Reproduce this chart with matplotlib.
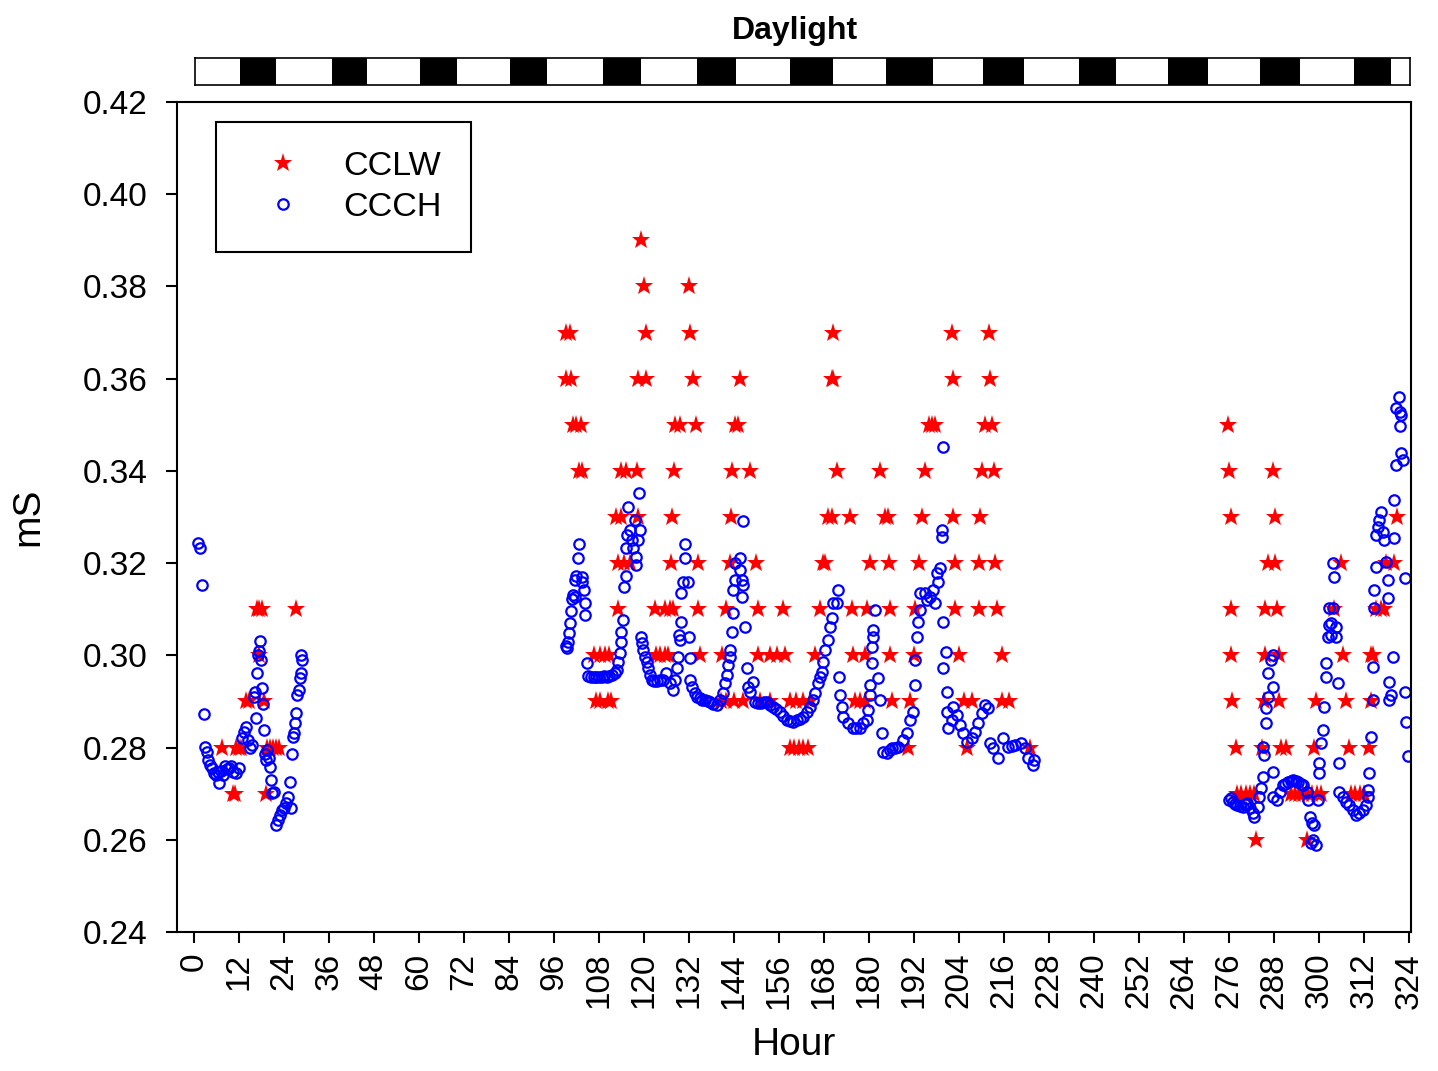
import numpy as np
import matplotlib
matplotlib.use("Agg")
import matplotlib.pyplot as plt

plt.rcParams['font.family'] = ['Liberation Sans', 'DejaVu Sans']

# CCCH (blue circles): hour, mS
ccch_hour = [
    # first run
    1.1, 1.6, 2.1, 2.7, 2.9, 3.5, 3.7, 4.3, 4.8, 5.3,
    5.9, 6.4, 6.7, 7.2, 7.7, 8.3, 8.8, 9.3, 9.9, 10.4,
    11.2, 12.0, 12.8, 13.4, 13.9, 14.4, 14.9, 15.5, 16.0, 16.3,
    16.6, 16.8, 17.1, 17.4, 17.6, 17.9, 18.2, 18.4, 18.7, 19.0,
    19.2, 19.5, 20.0, 20.3, 20.6, 20.8, 21.4, 21.9, 22.4, 22.9,
    23.5, 24.0, 24.6, 25.1, 25.6, 25.9, 26.2, 26.4, 26.7, 27.0,
    27.2, 27.5, 28.0, 28.3, 28.6, 28.8, 28.6,
    # second run
    99.1, 99.4, 99.7, 100.0, 100.4, 100.5, 100.7, 101.0, 101.5, 101.5,
    102.0, 102.3, 102.6, 103.4, 103.6, 103.9, 104.2, 104.4, 104.7, 105.2,
    105.9, 106.6, 107.3, 108.0, 108.7, 109.4, 110.1, 110.8, 111.5, 112.2,
    112.7, 113.0, 113.5, 113.8, 114.0, 114.3, 114.6, 115.1, 115.1, 115.4,
    115.7, 116.2, 116.7, 117.0, 117.5, 118.0, 118.0, 118.6, 118.9, 118.3,
    119.1, 119.4, 119.7, 120.2, 120.7, 121.0, 121.5, 122.1, 122.8, 123.5,
    124.2, 125.0, 126.0, 126.9, 127.7, 128.2, 128.7, 129.0, 129.5, 129.3,
    130.0, 130.0, 130.3, 130.9, 130.9, 131.7, 131.9, 132.2, 132.2, 132.7,
    133.5, 134.2, 134.9, 135.6, 136.3, 137.0, 137.7, 138.4, 139.4, 140.2,
    141.0, 141.6, 142.1, 142.4, 142.9, 142.9, 143.4, 143.7, 143.7, 144.2,
    144.2, 145.6, 145.6, 146.1, 146.4, 146.1, 146.4, 146.9, 147.4, 147.7,
    148.2, 149.0, 149.6, 150.4, 151.2, 152.0, 152.8, 153.6, 154.4, 155.2,
    156.3, 157.2, 158.1, 158.9, 159.7, 160.8, 161.6, 162.4, 163.4, 164.3,
    165.0, 165.6, 166.4, 167.0, 167.5, 167.7, 168.3, 169.1, 169.6, 170.1,
    170.4, 171.5, 171.7, 172.0, 172.3, 172.8, 173.1, 174.4, 175.7, 176.6,
    177.6, 178.4, 179.5, 179.8, 180.3, 180.3, 180.8, 180.8, 181.1, 181.1,
    181.6, 182.4, 183.0, 183.5, 183.8, 184.8, 185.5, 186.2, 187.0, 187.8,
    189.1, 190.2, 191.0, 191.8, 192.3, 192.3, 192.8, 193.1, 193.6, 193.6,
    195.0, 195.5, 196.3, 197.1, 197.6, 198.2, 198.4, 199.0, 199.5, 199.5,
    199.8, 199.8, 200.6, 199.8, 200.9, 200.9, 201.1, 202.2, 202.5, 203.5,
    204.3, 205.1, 206.2, 207.5, 208.3, 209.1, 210.2, 211.0, 211.8, 212.3,
    213.1, 214.5, 215.8, 217.1, 218.0, 219.0, 220.4, 221.7, 222.5, 223.6,
    224.1,
    # third run
    275.9, 276.4, 277.0, 277.5, 278.2, 278.9, 279.6, 280.2, 280.9, 281.6,
    282.3, 282.6, 283.6, 284.0, 284.6, 285.1, 285.3, 285.1, 285.8, 285.8,
    286.3, 287.6, 286.4, 287.1, 287.6, 287.8, 287.8, 288.8, 289.6, 290.4,
    291.0, 291.7, 292.4, 293.1, 293.8, 294.4, 295.1, 295.8, 296.9, 297.1,
    297.6, 298.2, 298.5, 299.1, 297.8, 298.7, 299.6, 299.9, 299.9, 300.5,
    301.0, 301.3, 301.8, 301.8, 302.4, 302.6, 302.6, 303.2, 304.5, 304.5,
    303.2, 303.7, 304.0, 303.7, 305.0, 305.3, 305.3, 306.4, 307.2, 308.0,
    309.0, 309.8, 310.6, 311.6, 312.4, 313.0, 313.0, 313.3, 313.8, 314.4,
    314.4, 314.6, 314.6, 315.2, 315.2, 315.7, 316.0, 316.5, 317.0, 317.3,
    317.8, 318.4, 318.4, 318.6, 318.6, 319.2, 319.7, 320.0, 320.0, 320.5,
    322.3, 321.8, 321.2, 320.5, 321.5, 321.8, 321.5, 322.8, 322.8, 323.3,
    323.6,
]
ccch_ms = [
    .3243, .3233, .3152, .2872, .2801, .2790, .2773, .2762, .2755, .2745,
    .2740, .2747, .2723, .2750, .2740, .2760, .2753, .2755, .2760, .2747,
    .2745, .2755, .2820, .2833, .2844, .2816, .2799, .2805, .2910, .2920,
    .2864, .2961, .3000, .3010, .3030, .2990, .2929, .2894, .2838, .2786,
    .2773, .2794, .2777, .2757, .2729, .2701, .2703, .2632, .2643, .2653,
    .2664, .2668, .2679, .2692, .2725, .2668, .2786, .2822, .2831, .2853,
    .2875, .2914, .2925, .2950, .2961, .2990, .3000,

    .3020, .3015, .3029, .3048, .3070, .3096, .3122, .3130, .3126, .3163,
    .3172, .3211, .3241, .3170, .3159, .3141, .3113, .3087, .2983, .2955,
    .2953, .2953, .2953, .2953, .2953, .2955, .2953, .2955, .2958, .2962,
    .2968, .2985, .3005, .3029, .3050, .3076, .3148, .3172, .3233, .3261,
    .3321, .3271, .3250, .3233, .3293, .3213, .3196, .3352, .3271, .3250,
    .3040, .3026, .3011, .2996, .2985, .2972, .2957, .2946, .2944, .2944,
    .2946, .2946, .2961, .2940, .2925, .2946, .2972, .2996, .3033, .3044,
    .3072, .3135, .3159, .3211, .3241, .3159, .3040, .2994, .2946, .2931,
    .2918, .2910, .2907, .2903, .2903, .2901, .2899, .2895, .2892, .2903,
    .2918, .2940, .2957, .2979, .2996, .3011, .3050, .3091, .3141, .3163,
    .3200, .3211, .3185, .3163, .3152, .3126, .3291, .3061, .2972, .2931,
    .2920, .2942, .2899, .2897, .2897, .2899, .2899, .2893, .2888, .2883,
    .2877, .2868, .2860, .2857, .2855, .2859, .2862, .2866, .2877, .2888,
    .2903, .2918, .2940, .2952, .2964, .2985, .3011, .3033, .3061, .3081,
    .3113, .3113, .3141, .2953, .2914, .2888, .2866, .2853, .2842, .2842,
    .2842, .2853, .2860, .2881, .2914, .2935, .2983, .3018, .3040, .3055,
    .3098, .2950, .2903, .2831, .2790, .2788, .2795, .2799, .2800, .2801,
    .2816, .2831, .2860, .2877, .2935, .2990, .3040, .3072, .3098, .3135,
    .3135, .3120, .3126, .3141, .3113, .3178, .3159, .3189, .3257, .3272,
    .3452, .3072, .3007, .2972, .2920, .2877, .2842, .2860, .2888, .2871,
    .2849, .2831, .2812, .2820, .2833, .2853, .2875, .2892, .2886, .2810,
    .2799, .2777, .2820, .2801, .2803, .2805, .2810, .2799, .2777, .2762,
    .2773,

    .2686, .2690, .2682, .2677, .2675, .2673, .2671, .2677, .2680, .2668,
    .2658, .2649, .2671, .2692, .2712, .2736, .2784, .2801, .2853, .2885,
    .2910, .2931, .2961, .2990, .3000, .2747, .2692, .2686, .2703, .2718,
    .2722, .2725, .2728, .2730, .2728, .2725, .2722, .2718, .2703, .2686,
    .2649, .2636, .2600, .2588, .2593, .2632, .2686, .2745, .2766, .2810,
    .2838, .2888, .2953, .2983, .3040, .3066, .3102, .3044, .3040, .3061,
    .3070, .3102, .3170, .3200, .2940, .2766, .2703, .2692, .2682, .2675,
    .2664, .2653, .2658, .2664, .2675, .2692, .2708, .2745, .2823, .2903,
    .2975, .3102, .3141, .3191, .3261, .3278, .3293, .3311, .3267, .3250,
    .3202, .3163, .3124, .2942, .2903, .2914, .2996, .3254, .3337, .3412,
    .3423, .3438, .3560, .3536, .3527, .3521, .3497, .3167, .2920, .2855,
    .2781,
]

# CCLW (red stars) is logged in 0.01 mS steps: hours at each level
cclw_026 = [283.2, 296.9]
cclw_027 = [10.4, 11.0, 19.2, 278.2, 279.3, 280.4, 281.5, 282.6, 292.5, 293.6,
            294.7, 295.8, 297.0, 298.2, 299.4, 300.5, 308.5, 309.7, 310.8, 312.0]
cclw_028 = [7.5, 11.2, 12.0, 12.6, 19.5, 20.3, 21.1, 21.9, 22.7,
            158.9, 160.0, 161.3, 162.5, 163.7, 190.4, 206.1, 223.0,
            277.8, 284.9, 289.8, 291.1, 298.7, 308.0, 313.4]
cclw_029 = [13.9, 14.7, 18.7, 107.3, 108.2, 110.4, 111.2, 140.5, 142.0, 144.0,
            146.4, 151.0, 153.6, 158.9, 160.5, 162.5, 164.3, 176.3, 177.5, 179.0,
            186.1, 191.0, 205.2, 207.5, 215.4, 217.2,
            276.9, 285.3, 289.3, 299.1, 307.2, 313.8]
cclw_030 = [17.4, 106.8, 108.2, 109.5, 110.8, 123.3, 124.2, 125.5, 126.4, 134.9,
            140.7, 150.5, 153.6, 155.4, 157.6, 165.6, 175.8, 179.0, 185.6, 191.9,
            203.9, 215.4, 276.4, 285.7, 289.3, 306.3, 313.8, 314.4]
cclw_031 = [16.8, 17.4, 18.2, 27.2, 113.1, 122.9, 125.5, 126.9, 127.8, 134.4,
            142.0, 150.5, 157.1, 166.9, 175.4, 179.4, 185.6, 192.3, 203.0, 209.2,
            214.1, 276.4, 285.7, 288.8, 304.0, 315.2, 316.5, 317.4]
cclw_032 = [113.1, 114.8, 116.2, 127.3, 134.4, 142.9, 150.0, 167.8, 168.2, 180.3,
            185.2, 193.2, 203.0, 209.2, 213.7, 286.3, 288.3, 305.8, 317.8, 320.0]
cclw_033 = [112.6, 114.0, 118.4, 127.6, 143.3, 169.1, 170.0, 174.9, 184.3, 185.0,
            194.1, 202.5, 209.7, 276.4, 288.3, 320.9]
cclw_034 = [102.8, 103.5, 114.0, 115.1, 118.1, 127.9, 143.6, 148.2, 171.4, 183.0,
            195.0, 210.1, 213.2, 276.0, 287.6]
cclw_035 = [101.0, 101.9, 103.3, 128.2, 129.5, 133.8, 144.2, 145.1, 195.9, 196.8,
            197.6, 211.0, 212.8, 275.6]
cclw_036 = [99.3, 100.6, 118.4, 120.6, 133.1, 145.6, 170.1, 170.5, 202.5, 212.2]
cclw_037 = [99.3, 100.3, 120.5, 132.4, 170.5, 202.1, 211.9]
cclw_038 = [119.9, 132.0]
cclw_039 = [119.3]

# dark periods of the light cycle (hours)
dark_start = [12, 36.5, 60, 84, 109, 134, 159, 184.5, 210.5, 236, 260, 284.5, 309.5]
dark_end = [21.5, 46, 70, 94, 119, 144.5, 170.5, 197, 221.5, 246, 270.5, 295, 319.5]

xticks = list(range(0, 325, 12))
yticks = [0.24, 0.26, 0.28, 0.30, 0.32, 0.34, 0.36, 0.38, 0.40, 0.42]

cclw_levels = [(0.26, cclw_026), (0.27, cclw_027), (0.28, cclw_028), (0.29, cclw_029),
               (0.30, cclw_030), (0.31, cclw_031), (0.32, cclw_032), (0.33, cclw_033),
               (0.34, cclw_034), (0.35, cclw_035), (0.36, cclw_036), (0.37, cclw_037),
               (0.38, cclw_038), (0.39, cclw_039)]
cclw_hour = np.concatenate([h for _, h in cclw_levels])
cclw_ms = np.concatenate([[v] * len(h) for v, h in cclw_levels])

fig = plt.figure(figsize=(14.38, 10.71), dpi=100)
ax = fig.add_axes([177 / 1438, 139 / 1071, 1234 / 1438, 830 / 1071])

ax.plot(cclw_hour, cclw_ms, linestyle='none', marker='*', markersize=14,
        color='#ff0000', markeredgewidth=0, label='CCLW')
ax.plot(ccch_hour, ccch_ms, linestyle='none', marker='o', markersize=7.5,
        markerfacecolor='none', markeredgecolor='#0000ff', markeredgewidth=1.6,
        label='CCCH')

ax.set_xlim(-4.5, 324.5)
ax.set_ylim(0.24, 0.42)
ax.set_xticks(xticks)
ax.set_xticklabels([str(t) for t in xticks], rotation=90)
ax.set_yticks(yticks)
ax.set_yticklabels(['%.2f' % t for t in yticks])
ax.tick_params(direction='out', length=8, width=1.5, labelsize=24)
ax.tick_params(axis='x', pad=7)
ax.tick_params(axis='y', pad=13)
for s in ax.spines.values():
    s.set_linewidth(1.5)
ax.set_xlabel('Hour', fontsize=28, labelpad=13)
ax.set_ylabel('mS', fontsize=28, labelpad=26)

leg = ax.legend(loc='upper left', bbox_to_anchor=(0.0316, 0.976), borderaxespad=0,
                fontsize=24.5, frameon=True, fancybox=False, framealpha=1,
                handlelength=2.26, handletextpad=0.63, borderpad=0.85, labelspacing=0.3)
leg.get_frame().set_edgecolor('black')
leg.get_frame().set_linewidth(1.5)

# daylight bar on top
bar = fig.add_axes([195 / 1438, 986 / 1071, 1215 / 1438, 27 / 1071])
bar.set_xlim(0, 324.5)
bar.set_ylim(0, 1)
for a, b in zip(dark_start, dark_end):
    bar.axvspan(a, b, color='black', linewidth=0)
bar.set_xticks([])
bar.set_yticks([])
for s in bar.spines.values():
    s.set_linewidth(1.2)
bar.set_title('Daylight', fontsize=23, fontweight='bold', pad=14, x=0.494)

fig.savefig('out.png', dpi=100)
